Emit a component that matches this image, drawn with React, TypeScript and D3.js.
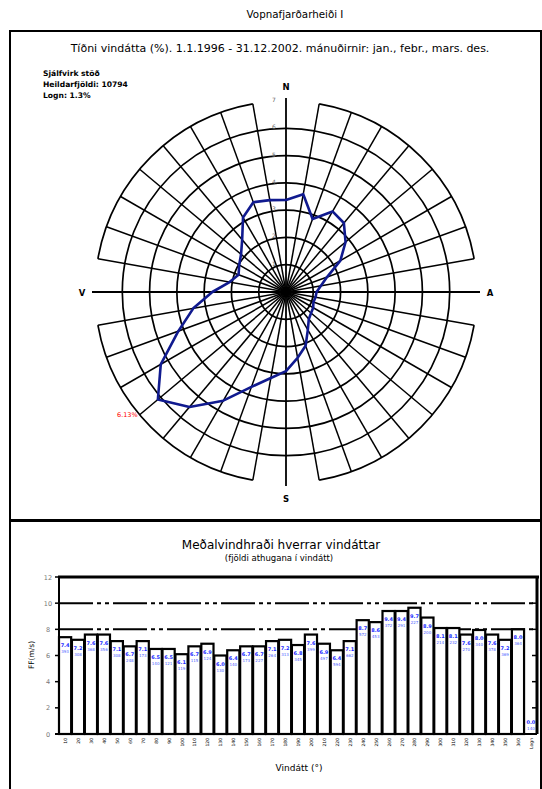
import React, { useEffect, useRef } from 'react';
import * as d3 from 'd3';

// vindáttir, 10° bil
const directions = [10, 20, 30, 40, 50, 60, 70, 80, 90, 100, 110, 120, 130, 140, 150, 160, 170, 180,
  190, 200, 210, 220, 230, 240, 250, 260, 270, 280, 290, 300, 310, 320, 330, 340, 350, 360];

// tíðni vindátta (%)
const frequency = [3.64, 2.85, 3.41, 3.3, 2.85, 2.3, 1.6, 1.3, 1.12, 1.1, 1.07, 1.15, 1.2, 1.3, 1.6, 2.1, 2.45, 2.9,
  3.2, 3.7, 4.6, 5.5, 6.13, 5.3, 4.2, 3.45, 2.7, 2.1, 1.85, 1.98, 2.15, 2.5, 3.15, 3.5, 3.42, 3.37];

// meðalvindhraði (m/s)
const meanSpeed = [7.4, 7.2, 7.6, 7.6, 7.1, 6.7, 7.1, 6.5, 6.5, 6.1, 6.7, 6.9, 6.0, 6.4, 6.7, 6.7, 7.1, 7.2,
  6.8, 7.6, 6.9, 6.4, 7.1, 8.7, 8.55, 9.4, 9.4, 9.65, 8.9, 8.1, 8.1, 7.6, 7.95, 7.6, 7.2, 8.0];

// fjöldi athugana í vindátt
const counts = [393, 308, 368, 356, 308, 248, 173, 140, 121, 119, 115, 124, 130, 140, 173, 227, 264, 313,
  345, 399, 497, 594, 662, 572, 453, 372, 291, 227, 200, 214, 232, 270, 340, 378, 369, 364];

const calmCount = 140;
const ringValues = [1, 2, 3, 4, 5, 6, 7];
const speedTicks = [0, 2, 4, 6, 8, 10, 12];
const compass = [{ a: 0, t: 'N' }, { a: 90, t: 'A' }, { a: 180, t: 'S' }, { a: 270, t: 'V' }];
const info = ['Sjálfvirk stöð', 'Heildarfjöldi: 10794', 'Logn: 1.3%'];

const font = '"DejaVu Sans", Verdana, sans-serif';

function WindChart() {
  const ref = useRef<SVGSVGElement>(null);

  useEffect(() => {
    const svg = d3.select(ref.current);
    svg.selectAll('*').remove();

    // frames
    svg.append('rect').attr('x', 10).attr('y', 31).attr('width', 531).attr('height', 489)
      .attr('fill', 'none').attr('stroke', '#000').attr('stroke-width', 2);
    svg.append('rect').attr('x', 10).attr('y', 521).attr('width', 531).attr('height', 280)
      .attr('fill', 'none').attr('stroke', '#000').attr('stroke-width', 2);

    svg.append('text').attr('x', 295).attr('y', 18).attr('text-anchor', 'middle')
      .style('font', `10.3px ${font}`).text('Vopnafjarðarheiði I');
    svg.append('text').attr('x', 280).attr('y', 52).attr('text-anchor', 'middle')
      .style('font', `11px ${font}`)
      .text('Tíðni vindátta (%). 1.1.1996 - 31.12.2002. mánuðirnir: jan., febr., mars. des.');

    svg.selectAll('text.info').data(info).enter().append('text')
      .attr('class', 'info')
      .attr('x', 43).attr('y', (d, i) => 76 + i * 11)
      .style('font', `bold 7.6px ${font}`)
      .text(d => d);

    // --- rose ---
    const cx = 286, cy = 292;
    const r = d3.scaleLinear().domain([0, 7]).range([0, 191]);
    const rose = svg.append('g').attr('transform', `translate(${cx},${cy})`);
    const rad = (deg: number) => deg * Math.PI / 180;

    rose.selectAll('circle').data(ringValues.slice(0, -1)).enter().append('circle')
      .attr('r', d => r(d)).attr('fill', 'none').attr('stroke', '#000').attr('stroke-width', 1.7);

    const outerArc = d3.arc<any>().innerRadius(r(7)).outerRadius(r(7));
    rose.selectAll('path.outer').data([0, 90, 180, 270]).enter().append('path')
      .attr('class', 'outer')
      .attr('d', d => outerArc({ startAngle: rad(d + 10), endAngle: rad(d + 80) }))
      .attr('fill', 'none').attr('stroke', '#000').attr('stroke-width', 1.7);

    rose.selectAll('line.spoke').data([0, ...directions.slice(0, -1)]).enter().append('line')
      .attr('class', 'spoke')
      .attr('x1', 0).attr('y1', 0)
      .attr('x2', d => Math.sin(rad(d)) * (d % 90 === 0 ? r(7) + 3 : r(7)))
      .attr('y2', d => -Math.cos(rad(d)) * (d % 90 === 0 ? r(7) + 3 : r(7)))
      .attr('stroke', '#000').attr('stroke-width', d => d % 90 === 0 ? 1.8 : 1.5);

    rose.selectAll('text.ring').data(ringValues).enter().append('text')
      .attr('class', 'ring')
      .attr('x', -14).attr('y', d => -r(d) + 1)
      .style('font', `6px ${font}`).attr('fill', '#666')
      .text(d => d);

    rose.selectAll('text.compass').data(compass).enter().append('text')
      .attr('class', 'compass')
      .attr('x', d => Math.sin(rad(d.a)) * 204)
      .attr('y', d => -Math.cos(rad(d.a)) * 206 + 3.5)
      .attr('text-anchor', 'middle')
      .style('font', `bold 8.5px ${font}`)
      .text(d => d.t);

    const line = d3.lineRadial<number>()
      .angle((d, i) => rad(directions[i]))
      .radius(d => r(d))
      .curve(d3.curveLinearClosed);
    rose.append('path').attr('d', line(frequency))
      .attr('fill', 'none').attr('stroke', '#101a8f').attr('stroke-width', 2.6)
      .attr('stroke-linejoin', 'round');

    const maxI = d3.maxIndex(frequency);
    rose.append('text')
      .attr('x', Math.sin(rad(directions[maxI])) * r(7) - 2)
      .attr('y', -Math.cos(rad(directions[maxI])) * r(7) + 2)
      .attr('text-anchor', 'end')
      .attr('fill', 'red')
      .style('font', `6.5px ${font}`)
      .text(frequency[maxI].toFixed(2) + '%');

    // --- bars ---
    svg.append('text').attr('x', 281).attr('y', 549).attr('text-anchor', 'middle')
      .style('font', `12px ${font}`).text('Meðalvindhraði hverrar vindáttar');
    svg.append('text').attr('x', 279).attr('y', 561).attr('text-anchor', 'middle')
      .style('font', `8.5px ${font}`).text('(fjöldi athugana í vindátt)');

    const cats = [...directions.map(String), 'Logn'];
    const x = d3.scaleBand().domain(cats).range([59, 537]).paddingInner(0.06);
    const y = d3.scaleLinear().domain([0, 12]).range([734, 577]);

    const dashed = svg.append('g');
    [8, 10].forEach(v => {
      dashed.append('line').attr('x1', 59).attr('x2', 537).attr('y1', y(v)).attr('y2', y(v))
        .attr('stroke', '#000').attr('stroke-width', 2).attr('stroke-dasharray', '34 4 4 4 4 4');
    });

    svg.selectAll('rect.bar').data(meanSpeed).enter().append('rect')
      .attr('class', 'bar')
      .attr('x', (d, i) => x(cats[i])!)
      .attr('y', d => y(d))
      .attr('width', x.bandwidth())
      .attr('height', d => y(0) - y(d))
      .attr('fill', '#fff').attr('stroke', '#000').attr('stroke-width', 2.2);

    const xc = (i: number) => x(cats[i])! + x.bandwidth() / 2;
    svg.selectAll('text.val').data(meanSpeed).enter().append('text')
      .attr('class', 'val')
      .attr('x', (d, i) => xc(i)).attr('y', d => y(d) + 10)
      .attr('text-anchor', 'middle').attr('fill', '#1a2cff')
      .style('font', `bold 5px ${font}`)
      .text(d => d.toFixed(1));
    svg.selectAll('text.cnt').data(counts).enter().append('text')
      .attr('class', 'cnt')
      .attr('x', (d, i) => xc(i)).attr('y', (d, i) => y(meanSpeed[i]) + 16)
      .attr('text-anchor', 'middle').attr('fill', '#4a5cff')
      .style('font', `4px ${font}`)
      .text(d => d);
    svg.append('text').attr('x', xc(36)).attr('y', y(0) - 10)
      .attr('text-anchor', 'middle').attr('fill', '#1a2cff')
      .style('font', `bold 5px ${font}`).text('0.0');
    svg.append('text').attr('x', xc(36)).attr('y', y(0) - 4)
      .attr('text-anchor', 'middle').attr('fill', '#4a5cff')
      .style('font', `4px ${font}`).text(calmCount);

    // axes and frame
    svg.append('line').attr('x1', 58).attr('x2', 539).attr('y1', 577).attr('y2', 577)
      .attr('stroke', '#000').attr('stroke-width', 3);
    svg.append('line').attr('x1', 537).attr('x2', 537).attr('y1', 577).attr('y2', 734)
      .attr('stroke', '#000').attr('stroke-width', 3);
    svg.append('line').attr('x1', 59).attr('x2', 59).attr('y1', 577).attr('y2', 735)
      .attr('stroke', '#000').attr('stroke-width', 2);
    svg.append('line').attr('x1', 55).attr('x2', 537).attr('y1', 734).attr('y2', 734)
      .attr('stroke', '#000').attr('stroke-width', 2);

    const yAxis = svg.append('g');
    speedTicks.forEach(t => {
      yAxis.append('line').attr('x1', 55).attr('x2', 59).attr('y1', y(t)).attr('y2', y(t))
        .attr('stroke', '#000').attr('stroke-width', 1.5);
      yAxis.append('line').attr('x1', 532).attr('x2', 537).attr('y1', y(t)).attr('y2', y(t))
        .attr('stroke', '#000').attr('stroke-width', 1.5);
      yAxis.append('text').attr('x', 48).attr('y', y(t) + 2.5).attr('text-anchor', 'middle')
        .attr('fill', '#777').style('font', `6.5px ${font}`).text(t);
    });
    svg.append('text').attr('transform', 'translate(34,655) rotate(-90)')
      .attr('text-anchor', 'middle').style('font', `7.5px ${font}`).text('FF(m/s)');

    svg.selectAll('text.xl').data(cats).enter().append('text')
      .attr('class', 'xl')
      .attr('transform', (d, i) => `translate(${xc(i) + 2},${738}) rotate(-90)`)
      .attr('text-anchor', 'end')
      .style('font', `4.5px ${font}`)
      .text(d => d);

    svg.append('text').attr('x', 299).attr('y', 771).attr('text-anchor', 'middle')
      .style('font', `9px ${font}`).text('Vindátt (°)');
  }, []);

  return <svg ref={ref} width={542} height={789}
    style={{ position: 'absolute', left: 0, top: 0, display: 'block', background: '#fff' }} />;
}

export default function App() {
  return <WindChart />;
}
